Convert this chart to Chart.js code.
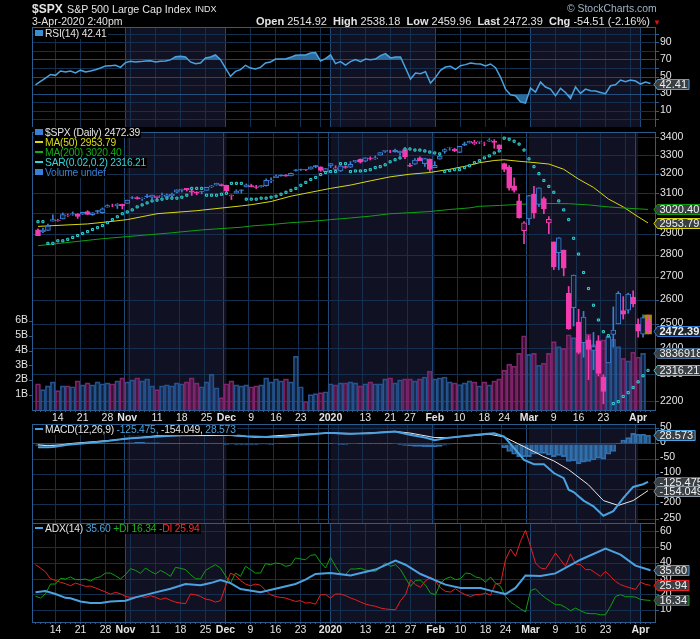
<!DOCTYPE html>
<html>
<head>
<meta charset="utf-8">
<title>$SPX</title>
<script src="https://cdn.jsdelivr.net/npm/chart.js@4/dist/chart.umd.js"></script>
<style>
  html, body { margin: 0; background: #000; }
  #page { position: relative; width: 700px; height: 639px; overflow: hidden; background: #000; font-family: "Liberation Sans", sans-serif; font-size: 10px; color: #e4e4e4; }
  canvas { position: absolute; left: 0; }
  .t { position: absolute; white-space: nowrap; line-height: 12px; }
  .b { font-weight: bold; }
  .leg { position: absolute; left: 34px; white-space: nowrap; line-height: 10px; height: 10px; background: #000; padding-right: 1px; font-size: 10.3px; letter-spacing: -0.2px; }
  .ico { display: inline-block; width: 8px; height: 2px; margin: 0 2px 2px 1px; vertical-align: middle; }
</style>
</head>
<body>
<div id="page">
  <canvas id="rsiChart" style="top:0"></canvas>
  <canvas id="priceChart" style="top:127px"></canvas>
  <canvas id="macdChart" style="top:420px"></canvas>
  <canvas id="adxChart" style="top:523px"></canvas>

  <span class="t b" style="left:32px;top:3px;font-size:12px">$SPX</span>
  <span class="t" style="left:67px;top:3px;font-size:10.7px">S&amp;P 500 Large Cap Index</span>
  <span class="t" style="left:195px;top:3px;font-size:9px">INDX</span>
  <span class="t" style="left:32px;top:15px;font-size:10.5px">3-Apr-2020 2:40pm</span>
  <span class="t" style="left:567px;top:3px;font-size:10.4px;color:#9fb4c8">© StockCharts.com</span>
  <span class="t" style="left:256px;top:15px;font-size:11px"><span class="b">Open</span> 2514.92 &nbsp;<span class="b">High</span> 2538.18 &nbsp;<span class="b">Low</span> 2459.96 &nbsp;<span class="b">Last</span> 2472.39 &nbsp;<span class="b">Chg</span> -54.51 (-2.16%) <span style="color:#e01010;font-size:8px">▼</span></span>

  <div class="leg" style="top:29px"><span class="ico" style="height:6px;background:#3b8fd0"></span>RSI(14) 42.41</div>

  <div class="leg" style="top:128px"><span class="ico" style="height:6px;background:#3a7fd5"></span>$SPX (Daily) 2472.39</div>
  <div class="leg" style="top:138px;color:#dcdc10"><span class="ico" style="background:#dcdc10"></span>MA(50) 2953.79</div>
  <div class="leg" style="top:148px;color:#10b010"><span class="ico" style="background:#10b010"></span>MA(200) 3020.40</div>
  <div class="leg" style="top:158px;color:#33d6d6"><span class="ico" style="background:#33d6d6"></span>SAR(0.02,0.2) 2316.21</div>
  <div class="leg" style="top:168px;color:#3a7fd5"><span class="ico" style="height:6px;background:#3a7fd5"></span>Volume undef</div>

  <div class="leg" style="top:425px"><span class="ico" style="background:#4aa3e0"></span>MACD(12,26,9) <span style="color:#4aa3e0">-125.475,</span> -154.049, <span style="color:#4aa3e0">28.573</span></div>
  <div class="leg" style="top:524px"><span class="ico" style="background:#4aa3e0"></span>ADX(14) <span style="color:#4aa3e0">35.60</span> <span style="color:#1fb01f">+DI 16.34</span> <span style="color:#f03030">-DI 25.94</span></div>
</div>

<script>
// trading days 8 Oct 2019 .. 3 Apr 2020, index 0..123
const opens = [2920,2911,2918,2963,2965,2973,2989,2995,2996,2997,3010,2994,3014,3004,3032,3036,3039,3046,3051,3079,3080,3075,3087,3082,3080,3089,3084,3090,3107,3118,3127,3114,3108,3111,3117,3134,3145,3147,3143,3088,3103,3119,3134,3142,3135,3136,3141,3166,3183,3196,3195,3192,3224,3226,3225,3227,3247,3240,3215,3245,3226,3218,3241,3238,3267,3281,3271,3285,3283,3303,3323,3321,3331,3316,3334,3248,3255,3289,3257,3282,3235,3281,3324,3344,3335,3318,3365,3370,3365,3378,3369,3380,3380,3360,3258,3238,3140,3063,2916,2974,3096,3045,3075,2954,2863,2813,2825,2630,2569,2508,2425,2436,2394,2431,2291,2345,2458,2501,2556,2558,2614,2499,2459,2515]
const highs = [2925,2929,2948,2993,2972,3003,2997,3008,3000,3007,3014,3005,3016,3028,3044,3047,3050,3047,3067,3085,3084,3079,3097,3093,3088,3103,3098,3103,3120,3124,3127,3118,3110,3112,3133,3142,3154,3150,3144,3094,3120,3120,3150,3149,3143,3143,3176,3182,3197,3198,3199,3207,3226,3228,3226,3240,3248,3240,3231,3258,3246,3247,3245,3268,3275,3283,3289,3294,3299,3317,3330,3329,3337,3326,3338,3259,3285,3294,3285,3282,3268,3306,3338,3347,3341,3352,3375,3381,3385,3380,3375,3394,3389,3360,3260,3247,3182,3097,2960,3091,3137,3130,3083,2985,2863,2883,2825,2660,2711,2562,2553,2453,2466,2453,2300,2449,2572,2638,2616,2631,2641,2522,2539,2538]
const lows = [2892,2907,2918,2963,2962,2973,2985,2991,2976,2995,2995,2991,3000,3001,3032,3034,3025,3023,3051,3074,3072,3065,3080,3075,3075,3086,3078,3083,3104,3108,3113,3091,3094,3099,3117,3131,3143,3139,3110,3070,3103,3103,3134,3135,3126,3133,3138,3157,3183,3191,3191,3192,3217,3221,3220,3227,3235,3216,3213,3236,3223,3215,3232,3236,3263,3260,3267,3277,3280,3303,3318,3316,3320,3302,3284,3241,3253,3273,3242,3214,3235,3281,3313,3330,3322,3317,3355,3369,3361,3366,3355,3378,3341,3328,3214,3118,3108,2977,2855,2945,2977,3034,2999,2902,2735,2734,2707,2478,2492,2380,2367,2281,2319,2295,2192,2345,2407,2501,2521,2545,2572,2447,2447,2460]
const closes = [2893,2919,2938,2970,2966,2995,2990,2998,2986,3006,2996,3004,3010,3023,3039,3036,3047,3038,3067,3078,3074,3076,3085,3093,3087,3091,3094,3096,3120,3122,3120,3108,3103,3110,3133,3140,3153,3141,3114,3093,3113,3117,3145,3135,3132,3142,3169,3169,3191,3192,3191,3205,3221,3224,3223,3240,3240,3221,3231,3258,3235,3246,3237,3253,3275,3265,3288,3283,3289,3317,3330,3321,3321,3325,3295,3243,3276,3273,3284,3226,3248,3298,3334,3345,3328,3352,3358,3379,3374,3380,3370,3386,3373,3338,3226,3128,3116,2979,2954,3090,3003,3130,3024,2972,2747,2882,2741,2481,2711,2386,2529,2398,2409,2305,2237,2447,2476,2630,2541,2627,2585,2471,2527,2472.39]
const volumes = [1.78,1.38,1.64,1.91,1.31,1.64,1.64,1.58,1.98,1.71,1.84,1.71,1.91,1.78,1.84,1.78,1.98,2.18,1.91,2.04,2.18,1.98,2.11,1.64,1.38,1.64,1.71,1.64,1.84,1.78,1.91,2.18,1.84,1.58,1.91,2.44,1.51,0.84,1.78,1.98,1.71,1.64,1.71,1.58,1.64,1.71,2.18,1.91,2.11,1.98,2.11,1.91,3.64,1.58,0.58,1.04,1.11,1.18,1.24,1.78,1.71,1.84,1.84,1.91,1.84,1.64,1.78,1.91,1.78,1.78,2.11,2.18,1.84,2.04,2.11,2.11,1.98,2.11,2.24,2.64,2.11,2.18,2.24,1.91,1.84,1.73,1.84,1.98,1.91,1.64,1.91,1.71,1.98,2.11,2.71,3.11,2.98,3.84,5.04,3.78,3.84,3.04,3.18,3.84,4.64,4.31,4.18,5.11,4.91,4.64,4.84,5.16,4.44,4.71,4.76,5.0,4.8,4.31,3.51,3.33,3.93,3.6,3.84,null]
const sar = [2960,2960,2856,2856,2868,2868,2875,2884,2893,2903,2912,2922,2931,2941,2955,2970,2984,2999,3008,3018,3033,3043,3053,3063,3067,3072,3077,3077,3077,3082,3092,3127,3127,3127,3092,3092,3092,3097,3102,3153,3153,3153,3072,3072,3072,3077,3077,3082,3087,3097,3107,3117,3127,3143,3158,3173,3184,3199,3210,3215,3215,3257,3257,3215,3218,3218,3220,3225,3236,3241,3251,3267,3278,3288,3337,3337,3331,3331,3326,3320,3315,3310,3215,3220,3225,3225,3236,3246,3262,3273,3288,3299,3315,3326,3397,3391,3380,3364,3331,3283,3241,3204,3168,3137,3107,3063,3018,2970,2880,2806,2722,2651,2579,2517,2469,2453,2193,2200,2219,2233,2252,2273,2296,2316.21]
// moving averages read at these days
const ma50Days = [0,10,14,18,24,32,41,43,47,51,55,59,63,67,71,75,79,83,87,89,92,94,97,100,103,106,109,112,115,118,121,123]
const ma50 = [2937,2949,2959,2970,2999,3014,3038,3044,3060,3087,3107,3127,3144,3166,3187,3201,3210,3227,3248,3262,3274,3278,3270,3263,3255,3227,3175,3132,3073,3033,2984,2953.79]
const ma200Days = [0,13,20,26,33,41,43,47,51,55,59,63,67,71,75,79,83,87,89,93,98,103,107,111,115,119,123]
const ma200 = [2845,2878,2892,2904,2920,2933,2939,2946,2955,2961,2970,2978,2987,2999,3004,3010,3020,3028,3036,3040,3047,3050,3049,3043,3033,3026,3020.4]

const rsi = [41,44.9,48.8,53,52,57,56,57,54.7,58,56,57,58.6,60.5,63,63.3,63.7,61.3,66.8,68.4,67.6,68,68.8,69,67.6,68.4,68.8,70,73.8,74.2,73.4,67.6,65.6,66.4,72.3,73.4,75.8,70.3,60.5,50.8,56.6,58.6,63.7,60.5,59.4,61.3,66.4,67.6,71,71,71,73,75.4,75.8,75.8,78.1,78.5,68.8,71.5,75.8,65.6,68,64,68,70.3,68,71,70.3,71,75,77.3,72.3,73.4,73.4,60.5,47.7,54.7,53.9,56.3,43,49.6,57.8,61.7,62.5,59,63.3,64.5,66.4,65.6,65.2,62.9,65.2,60.9,50,35.9,29.3,28.1,21,19.5,37.1,32.4,44.1,38.3,35.9,28.1,36.7,32,25,38.3,30.9,35.9,34,33.6,32,30.5,39.8,41,46.5,44.5,46.5,45.3,41.8,44.1,42.41]

const macdDays = [0,2,3,6,10,14,18,22,26,30,34,38,42,46,50,54,58,60,63,67,72,75,78,80,82,86,90,92,94,96,98,100,102,104,106,107,108,110,112,114,116,118,120,122,123]
const macd = [-11,-11,-10,-3,3,10,18,22,26,30,34,30,25,23,24,30,36,36,34,35,41,30,21,12,19,26,33,35,24,-14,-53,-67,-67,-96,-113,-151,-159,-187,-206,-237,-222,-179,-142,-133,-125.475]
const signalDays = [0,2,4,7,14,20,24,39,44,48,53,58,63,72,75,80,83,91,94,98,102,104,107,111,114,117,120,123]
const signal = [-3,-6,-4,2,11,20,27,28,22,27,32,35,33,41,36,21,21,32,23,-9,-42,-56,-85,-135,-187,-203,-187,-154.049]
const hist = [-5,-5,-5,-4,-3,-2,-1,0,1,1,2,2,2,3,3,3,4,4,4,4,5,5,4,4,4,3,3,2,2,2,2,1,1,1,1,3,2,1,-1,-2,-3,-3,-3,-3,-3,-2,-2,-1,0,1,1,1,2,3,3,3,2,1,1,1,0,-1,-1,0,0,1,1,1,1,1,1,1,0,-3,-5,-6,-8,-8,-9,-9,-10,-8,-4,-2,1,1,2,2,3,3,3,2,1,-2,-12,-25,-34,-42,-42,-42,-34,-31,-31,-36,-42,-38,-42,-58,-56,-66,-60,-58,-53,-47,-50,-34,-25,2,13,21,35,32,32,28.573]

const adxDays = [0,2,4,6,7,9,11,13,15,18,20,24,27,30,33,35,37,39,41,45,48,52,54,56,59,63,68,72,74,77,82,85,89,91,94,96,98,101,104,109,114,117,120,123]
const adx = [21.5,22.3,20.4,18,17.7,15.7,14.7,14.7,15.7,16.2,18.3,21.5,23.8,26.8,26,27.4,29.4,27.4,23.6,21.5,23.8,26.8,29.6,33.2,33.8,32.3,36,41.7,39.1,33.2,26.4,24.3,24.3,22.6,20.4,24.3,32.3,31.9,33.6,42.3,49.4,45.5,38.5,35.6]
const plusDi = [19,17.9,20.6,26.8,26.8,30.4,30,31.3,29.6,29.6,30,28.7,30.6,31.5,33.8,33.8,32.1,30,32.8,36.6,35.5,33.6,37,34.9,33.2,35.5,33.8,31.7,37.4,36.8,36,32.8,30.2,30,35.5,37.4,39.1,37,32.1,27.4,33.8,31.7,38.1,36,33.8,33.8,39.8,39.1,40.2,39.8,38.1,38.7,43.4,42.8,42.3,45.1,45.5,40.6,37,43.8,38.1,33.2,32.8,36.4,36.4,36.8,35.7,35.3,34.9,37.4,40.2,38.1,39.1,36,30.6,25.3,29.1,29.3,26,21,20,27.4,30.2,31.3,29.6,30.2,33.8,33.4,31.3,30.6,28,31.3,27.4,25.3,18.9,15.3,13.2,11,9,22.6,23.8,20.4,17.9,15.7,13.6,13.6,11.9,9.8,11.5,9.8,8.3,7.9,7.9,7.2,7.2,12.6,18.9,20,18.7,18.7,18.5,17,16.6,16.34]
const minusDi = [39.1,37,34.5,30.2,29.1,27.9,27,25.7,27.4,26.4,25.3,25.5,24.3,23,21.7,20.4,21.5,20.6,18.9,18.3,18.5,18.9,18.3,19.4,18.3,17,17.9,16.4,15.3,14.7,14.3,20.4,20,18.9,17.2,16.6,15.3,16.2,25.3,33.8,32.1,29.1,26.8,25.7,26.8,26,22.8,20,18.9,18.3,17.9,16.8,15.7,16.2,14.7,14.9,14,20,20,17.9,20.4,20.4,19.4,17.9,16.8,15.3,14,13.2,12.6,11.5,10.9,10.6,10.4,16.2,20,29.4,26.4,24.7,28.9,31.1,28.5,24.3,22.1,21.7,23.8,21.5,20,18.9,20,20,21.1,19.6,27,27,42.3,49.1,44.5,54,61,50.9,40.2,37,36.4,41.3,46.6,42.3,38.1,46,39.6,39.1,36,36,33.8,31.7,34.9,31.7,28.5,26.4,25.3,24.3,23.4,27.9,26.6,25.94]

// x axis
const labelDays = [4,9,14,18,24,29,34,38,43,48,53,59,66,71,75,80,85,90,94,99,104,109,114,121]
const labelTexts = ['14','21','28','Nov','11','18','25','Dec','9','16','23','2020','13','21','27','Feb','10','18','24','Mar','9','16','23','Apr']
const boldLabels = ['Nov','Dec','2020','Feb','Mar','Apr']
const extraGridDays = [19,57,61,119]
const monthDays = [18,38,59,80,99,121]
const shadeStart = [18,59,99]
const shadeEnd = [38,80,121]

const priceTicks = [2200,2300,2400,2500,2600,2700,2800,2900,3000,3100,3200,3300,3400]
const volumeTicks = [1,2,3,4,5,6]
const rsiGrid = [0,10,20,30,40,50,60,70,80,90,100]
const rsiLabels = [10,30,50,70,90]
const macdTicks = [-250,-200,-150,-100,-50,0,50]
const adxTicks = [10,20,30,40,50,60]

const FONT = 'Liberation Sans'
const GRID = '#14304e'
const GRID_STRONG = '#1f4a78'
const FRAME = '#2a5c90'
const BLUE = '#3a7fd5'
const PINK = '#f23cb0'
const LINE_BLUE = '#4aa3e0'

Chart.defaults.font.family = FONT
Chart.defaults.font.size = 10.5
Chart.defaults.color = '#e4e4e4'
Chart.defaults.animation = false

const allDays = closes.map((c, i) => i)
const toPoints = (days, values) => days.map((d, i) => ({ x: d, y: values[i] }))
const perDay = values => values.map((v, i) => ({ x: i, y: v }))

function noMargins(scale) {
  scale.paddingTop = 0
  scale.paddingBottom = 0
  scale.paddingLeft = 0
  scale.paddingRight = 0
}

function shading() {
  return {
    id: 'shading',
    beforeDraw(chart) {
      const { ctx, chartArea: a, scales: { x } } = chart
      ctx.save()
      ctx.fillStyle = '#111124'
      shadeStart.forEach((s, i) => {
        const l = x.getPixelForValue(s)
        ctx.fillRect(l, a.top, x.getPixelForValue(shadeEnd[i]) - l, a.bottom - a.top)
      })
      ctx.restore()
    },
    afterDraw(chart) {
      const { ctx, chartArea: a } = chart
      ctx.save()
      ctx.strokeStyle = FRAME
      ctx.strokeRect(a.left + 0.5, a.top + 0.5, a.right - a.left - 1, a.bottom - a.top)
      ctx.restore()
    },
  }
}

// value boxes at the right edge
function callouts(items) {
  return {
    id: 'callouts',
    afterDraw(chart) {
      const { ctx, chartArea: a } = chart
      items.forEach((c) => {
        const y = Math.round(chart.scales[c.axis].getPixelForValue(c.value)) + 0.5
        const left = a.right + 1.5
        ctx.save()
        ctx.font = `${c.bold ? 'bold ' : ''}11px ${FONT}`
        const w = ctx.measureText(c.text).width + 4
        ctx.beginPath()
        ctx.moveTo(a.right - 2, y)
        ctx.lineTo(left, y - 5)
        ctx.lineTo(left + w, y - 5)
        ctx.lineTo(left + w, y + 5)
        ctx.lineTo(left, y + 5)
        ctx.closePath()
        ctx.fillStyle = c.bg || '#3a3f44'
        ctx.fill()
        ctx.strokeStyle = c.color
        ctx.stroke()
        ctx.fillStyle = '#f0f0f0'
        ctx.textBaseline = 'middle'
        ctx.fillText(c.text, left + 2, y + 0.5)
        ctx.restore()
      })
    },
  }
}

function xScale(showLabels, height) {
  return {
    type: 'linear',
    min: -0.7,
    max: 124.1,
    afterBuildTicks(scale) { scale.ticks = allDays.map(d => ({ value: d })) },
    afterFit(scale) {
      scale.height = height
      noMargins(scale)
    },
    border: { display: false },
    grid: {
      drawOnChartArea: true,
      drawTicks: showLabels,
      tickLength: 2,
      tickColor: FRAME,
      color(ctx) {
        const d = ctx.tick && ctx.tick.value
        if (monthDays.includes(d))
          return GRID_STRONG
        return labelDays.includes(d) || extraGridDays.includes(d) ? GRID : 'transparent'
      },
    },
    ticks: {
      display: showLabels,
      autoSkip: false,
      maxRotation: 0,
      padding: 0,
      callback(v) {
        const i = labelDays.indexOf(v)
        return i < 0 ? '' : labelTexts[i]
      },
      font(ctx) {
        const i = labelDays.indexOf(ctx.tick && ctx.tick.value)
        const bold = i >= 0 && boldLabels.includes(labelTexts[i])
        return { family: FONT, size: 10.5, weight: bold ? 'bold' : 'normal' }
      },
    },
  }
}

function yScale(opts) {
  return {
    type: opts.type || 'linear',
    position: opts.position || 'right',
    min: opts.min,
    max: opts.max,
    afterBuildTicks(scale) { scale.ticks = opts.grid.map(v => ({ value: v })) },
    afterFit(scale) {
      scale.width = opts.width || 44
      noMargins(scale)
    },
    border: { display: false },
    grid: {
      drawOnChartArea: opts.position !== 'left',
      tickLength: 3,
      tickColor: FRAME,
      color: ctx => (opts.strong && opts.strong.includes(ctx.tick && ctx.tick.value)) ? GRID_STRONG : GRID,
    },
    ticks: {
      autoSkip: false,
      padding: 1,
      labelOffset: opts.labelOffset === undefined ? -1 : opts.labelOffset,
      font: { family: FONT, size: 10.5 },
      callback: v => (opts.labels ? (opts.labels.includes(v) ? String(v) : '') : (opts.suffix ? v + opts.suffix : String(v))),
    },
  }
}

const baseOptions = {
  responsive: false,
  devicePixelRatio: 1,
  plugins: { legend: { display: false }, tooltip: { enabled: false } },
  elements: { point: { radius: 0 } },
}

function makeChart(id, height, padding, datasets, scales, extra) {
  const canvas = document.getElementById(id)
  canvas.width = 700
  canvas.height = height
  return new Chart(canvas, {
    data: { datasets },
    options: { ...baseOptions, layout: { padding }, scales },
    plugins: [shading(), callouts(extra)],
  })
}

function lineSet(data, color, width, order, more) {
  return { type: 'line', data, borderColor: color, borderWidth: width, tension: 0, yAxisID: 'y', order, ...more }
}

// RSI panel
makeChart('rsiChart', 127, { left: 32, top: 27 }, [
  lineSet(perDay(rsi), 'transparent', 0, 3, { fill: { target: { value: 30 }, above: 'transparent', below: '#2d6a9c' } }),
  lineSet(perDay(rsi), LINE_BLUE, 1.5, 1, { fill: { target: { value: 70 }, above: '#2d6a9c', below: 'transparent' } }),
], {
  x: xScale(false, 0),
  y: yScale({ min: -8.3, max: 108.4, grid: rsiGrid, labels: rsiLabels, strong: [30, 50, 70] }),
}, [
  { axis: 'y', value: 42.41, text: '42.41', color: LINE_BLUE },
])

// price and volume panel
const isUp = i => i === 0 ? false : closes[i] >= closes[i - 1]
const volumeBars = {
  type: 'bar',
  data: perDay(volumes),
  yAxisID: 'yVol',
  grouped: false,
  barThickness: 5,
  borderWidth: 1,
  backgroundColor: allDays.map(i => isUp(i) ? 'rgba(50,110,190,0.3)' : 'rgba(170,45,140,0.34)'),
  borderColor: allDays.map(i => isUp(i) ? '#24508a' : '#7a2468'),
  order: 6,
}
const lastDay = closes.length - 1
const highlight = {
  type: 'bar',
  data: [{ x: lastDay, y: [lows[lastDay], highs[lastDay]] }],
  yAxisID: 'y',
  grouped: false,
  barThickness: 7,
  backgroundColor: '#a89200',
  order: 5,
}
const wicks = {
  type: 'bar',
  data: allDays.map(i => ({ x: i, y: [lows[i], highs[i]] })),
  yAxisID: 'y',
  grouped: false,
  barThickness: 1,
  backgroundColor: allDays.map(i => isUp(i) ? BLUE : PINK),
  order: 3,
}
const bodies = {
  type: 'bar',
  data: allDays.map(i => ({ x: i, y: [opens[i], closes[i]] })),
  yAxisID: 'y',
  grouped: false,
  barThickness: 5,
  borderWidth: 1,
  borderSkipped: false,
  borderColor: allDays.map(i => isUp(i) ? BLUE : PINK),
  backgroundColor: allDays.map((i) => {
    if (closes[i] > opens[i])
      return 'rgba(8,8,20,0.8)'
    return isUp(i) ? BLUE : PINK
  }),
  order: 2,
}
const sarPoints = {
  type: 'line',
  data: perDay(sar),
  yAxisID: 'y',
  showLine: false,
  pointStyle: 'rect',
  pointRadius: 1.5,
  pointBorderWidth: 1,
  pointBorderColor: '#33d6d6',
  pointBackgroundColor: '#0c3a40',
  order: 1,
}
makeChart('priceChart', 297, { top: 0 }, [
  volumeBars,
  highlight,
  lineSet(toPoints(ma200Days, ma200), '#10a010', 1, 4),
  lineSet(toPoints(ma50Days, ma50), '#d8d810', 1, 4),
  wicks,
  bodies,
  sarPoints,
], {
  x: xScale(true, 14),
  y: yScale({ type: 'logarithmic', min: 2169.9, max: 3431.6, grid: priceTicks, strong: [] }),
  yVol: yScale({ min: 0, max: 18.87, grid: volumeTicks, position: 'left', width: 32, suffix: 'B' }),
}, [
  { axis: 'y', value: 3020.4, text: '3020.40', color: '#109a10' },
  { axis: 'y', value: 2953.79, text: '2953.79', color: '#d8d810' },
  { axis: 'y', value: 2472.39, text: '2472.39', color: BLUE, bold: true, bg: '#20242a' },
  { axis: 'yVol', value: 3.836918, text: '3836918', color: '#4a6d90' },
  { axis: 'y', value: 2316.21, text: '2316.21', color: '#33d6d6' },
])

// MACD panel, the canvas starts a little higher so the 50 label is not cut
makeChart('macdChart', 103, { left: 32, top: 4 }, [
  {
    type: 'bar',
    data: perDay(hist),
    yAxisID: 'y',
    grouped: false,
    barThickness: 5,
    borderWidth: 1,
    borderColor: '#2e6ea8',
    backgroundColor: 'rgba(60,130,200,0.55)',
    order: 3,
  },
  lineSet(toPoints(signalDays, signal), '#e8e8e8', 1, 2),
  lineSet(toPoints(macdDays, macd), LINE_BLUE, 2, 1),
], {
  x: xScale(false, 0),
  y: yScale({ min: -261, max: 65.8, grid: macdTicks, strong: [0], labelOffset: -2 }),
}, [
  { axis: 'y', value: 28.573, text: '28.573', color: LINE_BLUE },
  { axis: 'y', value: -125.475, text: '-125.475', color: '#4a6d90' },
  { axis: 'y', value: -154.049, text: '-154.049', color: '#8a97a4' },
])

// ADX panel
makeChart('adxChart', 116, { left: 32 }, [
  lineSet(perDay(plusDi), '#10a010', 1, 3),
  lineSet(perDay(minusDi), '#e82020', 1, 2),
  lineSet(toPoints(adxDays, adx), LINE_BLUE, 2, 1),
], {
  x: xScale(true, 17),
  y: yScale({ min: 2.6, max: 65.7, grid: adxTicks }),
}, [
  { axis: 'y', value: 35.6, text: '35.60', color: LINE_BLUE },
  { axis: 'y', value: 25.94, text: '25.94', color: '#e82020' },
  { axis: 'y', value: 16.34, text: '16.34', color: '#10a010' },
])
</script>
</body>
</html>
